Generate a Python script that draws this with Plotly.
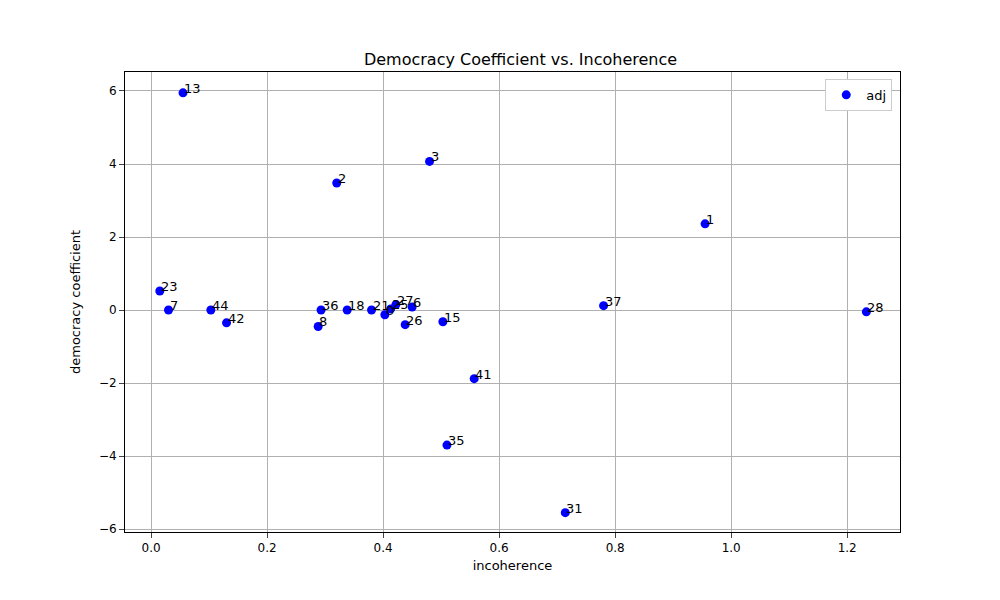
import plotly.graph_objects as go

labels = ["13","2","3","1","23","7","44","42","36","8","18","21","0","25","27","6","26","15","41","35","31","37","28"]
xs = [0.055,0.32,0.48,0.955,0.015,0.03,0.103,0.13,0.293,0.288,0.338,0.38,0.403,0.413,0.422,0.45,0.438,0.503,0.557,0.51,0.714,0.78,1.233]
ys = [5.95,3.48,4.07,2.36,0.52,0.0,0.0,-0.35,0.0,-0.45,0.0,0.0,-0.13,0.03,0.15,0.08,-0.4,-0.32,-1.88,-3.7,-5.55,0.12,-0.05]

fig = go.Figure()
fig.add_trace(go.Scatter(x=xs, y=ys, mode="markers", name="adj",
                         marker=dict(color="blue", size=9)))
for l, x, y in zip(labels, xs, ys):
    fig.add_annotation(x=x, y=y, text=l, showarrow=False, xanchor="left", yanchor="bottom",
                       xshift=-1, yshift=-5, font=dict(size=13, color="black"))

ax = dict(showgrid=True, gridcolor="#b0b0b0", showline=True, linecolor="black", mirror=True,
          ticks="outside", zeroline=False, tickfont=dict(size=12, color="black"))
fig.update_layout(
    width=1000, height=600, plot_bgcolor="white", paper_bgcolor="white",
    font=dict(family="DejaVu Sans", color="black"),
    margin=dict(l=117, r=108, t=64, b=76),
    title=dict(text="Democracy Coefficient vs. Incoherence", x=0.5125, xanchor="center", y=0.905, yanchor="bottom", font=dict(size=16)),
    xaxis=dict(ax, range=[-0.045, 1.291], dtick=0.2, tickformat=".1f",
               title=dict(text="incoherence", font=dict(size=13), standoff=6)),
    yaxis=dict(ax, range=[-6.08, 6.52], dtick=2,
               title=dict(text="democracy coefficient", font=dict(size=13))),
    showlegend=True,
    legend=dict(x=0.99, y=0.985, xanchor="right", yanchor="top", bordercolor="#cccccc", borderwidth=1, font=dict(size=13)),
)
fig.write_html("out.html")
